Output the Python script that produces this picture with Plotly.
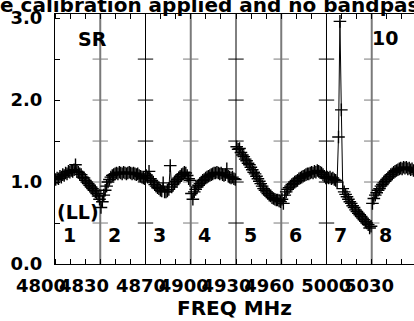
import plotly.graph_objects as go

# ---- data ----
IF_START = [4809.7, 4841.45, 4873.2, 4904.95, 4936.7, 4968.45, 5000.2, 5031.95]
IF_WIDTH = 31.75
N_CHAN = 32
IF_LABELS = ["1", "2", "3", "4", "5", "6", "7", "8"]

amp_if1 = [1.03, 1.05, 1.04, 1.07, 1.06, 1.09, 1.08, 1.11, 1.10, 1.13, 1.12, 1.14, 1.13, 1.15, 1.21, 1.13,
           1.12, 1.10, 1.09, 1.06, 1.05, 1.02, 1.00, 0.98, 0.96, 0.94, 0.92, 0.90, 0.88, 0.86, 0.83, 0.79]
amp_if2 = [0.69, 0.76, 0.84, 0.90, 0.95, 1.00, 1.03, 1.06, 1.08, 1.09, 1.10, 1.11, 1.10, 1.12, 1.11, 1.10,
           1.12, 1.11, 1.10, 1.11, 1.12, 1.11, 1.10, 1.11, 1.10, 1.09, 1.10, 1.08, 1.07, 1.06, 1.05, 1.04]
amp_if3 = [1.08, 1.06, 1.13, 1.04, 1.02, 1.00, 0.97, 0.95, 0.93, 0.92, 0.90, 0.89, 0.99, 0.88, 0.88, 0.89,
           0.91, 1.20, 0.94, 0.97, 0.99, 1.01, 1.03, 1.05, 1.07, 1.09, 1.10, 1.12, 1.11, 1.08, 1.04, 1.02]
amp_if4 = [0.86, 0.79, 0.88, 0.91, 0.94, 0.96, 0.98, 1.00, 1.02, 1.03, 1.05, 1.06, 1.07, 1.08, 1.09, 1.10,
           1.11, 1.11, 1.12, 1.11, 1.10, 1.11, 1.09, 1.08, 1.09, 1.16, 1.07, 1.06, 1.05, 1.06, 1.04, 1.03]
amp_if5 = [1.43, 1.40, 1.41, 1.36, 1.33, 1.31, 1.28, 1.26, 1.23, 1.21, 1.18, 1.15, 1.12, 1.10, 1.07, 1.04,
           1.01, 0.98, 0.95, 0.92, 0.90, 0.88, 0.86, 0.84, 0.83, 0.81, 0.80, 0.79, 0.78, 0.78, 0.77, 0.76]
amp_if6 = [0.79, 0.74, 0.84, 0.88, 0.91, 0.93, 0.95, 0.97, 0.98, 1.00, 1.01, 1.02, 1.04, 1.05, 1.06, 1.07,
           1.08, 1.09, 1.10, 1.10, 1.11, 1.12, 1.11, 1.13, 1.12, 1.14, 1.13, 1.12, 1.11, 1.09, 1.07, 1.05]
amp_if7 = [1.06, 1.05, 1.06, 1.04, 1.05, 1.03, 1.02, 1.00, 1.55, 2.96, 1.88, 0.92, 0.88, 0.85, 0.82, 0.79,
           0.76, 0.74, 0.71, 0.69, 0.66, 0.64, 0.62, 0.60, 0.58, 0.56, 0.54, 0.52, 0.50, 0.48, 0.44, 0.46]
amp_if8 = [0.74, 0.80, 0.84, 0.87, 0.90, 0.92, 0.95, 0.97, 0.99, 1.01, 1.03, 1.05, 1.07, 1.09, 1.10, 1.12,
           1.13, 1.14, 1.15, 1.16, 1.17, 1.16, 1.18, 1.17, 1.18, 1.16, 1.17, 1.15, 1.16, 1.14, 1.13, 1.12]
AMPS = [amp_if1, amp_if2, amp_if3, amp_if4, amp_if5, amp_if6, amp_if7, amp_if8]

X_TICKS = [4830, 4870, 4900, 4930, 4960, 5000, 5030]
X_FIRST_LABEL = 4800
Y_TICKS = [0.0, 1.0, 2.0, 3.0]
X_RANGE = [4809.7, 5061.6]
Y_RANGE = [0.0, 3.05]

TITLE = "e calibration applied and no bandpass applied"

# ---- build figure ----
xs, ys = [], []
for start, amps in zip(IF_START, AMPS):
    chw = IF_WIDTH / N_CHAN
    xs += [start + (i + 0.5) * chw for i in range(len(amps))] + [None]
    ys += list(amps) + [None]

fig = go.Figure()

# IF boundary lines with small cross ticks
for k, b in enumerate(IF_START[1:]):
    col = "#7a7a7a" if k % 2 == 0 else "#000000"
    wid = 2 if k % 2 == 0 else 1
    fig.add_shape(type="line", xref="x", yref="paper", x0=b, x1=b, y0=0, y1=1,
                  line=dict(color=col, width=wid), layer="below")
    fig.add_trace(go.Scatter(x=[b] * 5, y=[0.5, 1.0, 1.5, 2.0, 2.5], mode="markers",
                             marker=dict(symbol="line-ew", size=11, line=dict(width=1, color=col)),
                             hoverinfo="skip", showlegend=False))

fig.add_trace(go.Scatter(x=xs, y=ys, mode="lines+markers",
                         line=dict(color="black", width=1),
                         marker=dict(symbol="cross-thin", size=9, color="black",
                                     line=dict(width=1.4, color="black")),
                         connectgaps=False, showlegend=False))

# minor ticks: each IF split in three
minor_vals = []
for b in IF_START + [IF_START[-1] + IF_WIDTH]:
    for k in range(3):
        minor_vals.append(b + k * IF_WIDTH / 3)

fig.update_xaxes(range=X_RANGE, showline=True, linecolor="black", linewidth=1, mirror="ticks",
                 tickmode="array", tickvals=X_TICKS, ticktext=[str(v) for v in X_TICKS],
                 tickangle=0, ticks="", showgrid=False, zeroline=False, ticklabelstandoff=5,
                 minor=dict(tickmode="array", tickvals=minor_vals, ticks="inside", ticklen=5,
                            tickcolor="black", tickwidth=1, showgrid=False),
                 title=dict(text="FREQ MHz", font=dict(size=20), standoff=0))
fig.update_yaxes(range=Y_RANGE, showline=True, linecolor="black", linewidth=1, mirror=False,
                 tickmode="array", tickvals=Y_TICKS, tickformat=".1f",
                 ticks="inside", ticklen=5, tickcolor="black", showgrid=False, zeroline=False,
                 ticklabelstandoff=8,
                 minor=dict(dtick=0.5, ticks="inside", ticklen=5, tickcolor="black", showgrid=False))

x0, x1 = X_RANGE
ann = []
ann.append(dict(x=(X_FIRST_LABEL - x0) / (x1 - x0), y=-0.084, xref="paper", yref="paper",
                text=str(X_FIRST_LABEL), showarrow=False, xanchor="center", yanchor="middle",
                font=dict(size=18)))
for start, lab in zip(IF_START, IF_LABELS):
    ann.append(dict(x=start + 9.9, y=0.35, xref="x", yref="y", text=lab, showarrow=False,
                    xanchor="center", yanchor="middle", font=dict(size=19)))
ann.append(dict(x=4825.8, y=0.63, xref="x", yref="y", text="(LL)", showarrow=False,
                xanchor="center", yanchor="middle", font=dict(size=19)))
ann.append(dict(x=4836.0, y=2.74, xref="x", yref="y", text="SR", showarrow=False,
                xanchor="center", yanchor="middle", font=dict(size=19)))
ann.append(dict(x=5041.3, y=2.76, xref="x", yref="y", text="10", showarrow=False,
                xanchor="center", yanchor="middle", font=dict(size=19)))
ann.append(dict(x=-2 / 359 - 55 / 359, y=1.036, xref="paper", yref="paper", text=TITLE,
                showarrow=False, xanchor="left", yanchor="middle", font=dict(size=20)))

fig.update_layout(width=414, height=321, margin=dict(l=55, r=0, t=14, b=57),
                  paper_bgcolor="white", plot_bgcolor="white",
                  font=dict(family="DejaVu Sans", size=18, color="black", weight="bold"),
                  annotations=ann, showlegend=False)

fig.write_html("out.html", config={"displayModeBar": False},
               post_script="document.body.style.margin='0';document.body.style.overflow='hidden';")
